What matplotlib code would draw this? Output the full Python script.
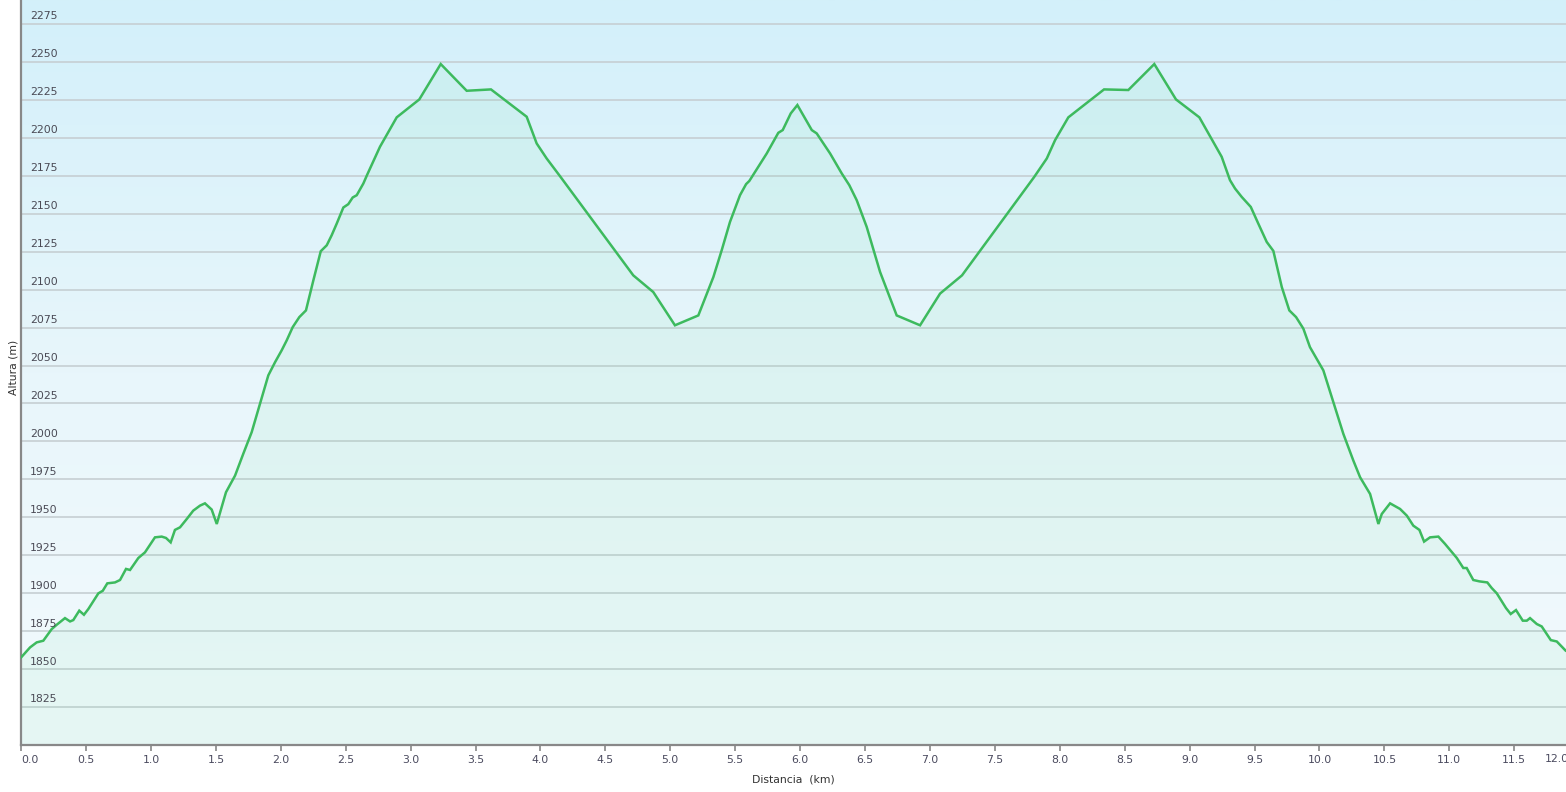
import numpy as np
import matplotlib
matplotlib.use("Agg")
import matplotlib.pyplot as plt
from matplotlib.colors import LinearSegmentedColormap
import matplotlib.transforms as mtransforms

# ---- data ----
distance_km = [0.0, 0.069, 0.120, 0.171, 0.236, 0.274, 0.338, 0.377, 0.402, 0.448,
               0.484, 0.518, 0.595, 0.629, 0.664, 0.723, 0.762, 0.808, 0.839, 0.903,
               0.954, 0.980, 1.031, 1.083, 1.116, 1.152, 1.185, 1.224, 1.276, 1.326,
               1.378, 1.416, 1.468, 1.507, 1.578, 1.648, 1.711, 1.776, 1.840, 1.904,
               1.956, 2.007, 2.046, 2.092, 2.143, 2.194, 2.251, 2.308, 2.354, 2.392,
               2.431, 2.482, 2.520, 2.554, 2.585, 2.636, 2.664, 2.764, 2.893, 3.067,
               3.232, 3.432, 3.619, 3.894, 3.971, 4.048, 4.151, 4.715, 4.869, 5.036,
               5.216, 5.332, 5.396, 5.460, 5.537, 5.584, 5.609, 5.743, 5.832, 5.866,
               5.928, 5.979, 6.038, 6.090, 6.128, 6.231, 6.321, 6.379, 6.436, 6.513,
               6.616, 6.744, 6.924, 7.078, 7.247, 7.802, 7.900, 7.964, 8.066, 8.341,
               8.528, 8.728, 8.895, 9.075, 9.247, 9.311, 9.350, 9.401, 9.471, 9.529,
               9.594, 9.645, 9.710, 9.768, 9.820, 9.876, 9.927, 10.030, 10.095, 10.184,
               10.261, 10.313, 10.390, 10.454, 10.480, 10.544, 10.621, 10.673, 10.723, 10.770,
               10.806, 10.852, 10.916, 10.967, 11.058, 11.108, 11.134, 11.185, 11.232, 11.293,
               11.327, 11.366, 11.437, 11.473, 11.514, 11.566, 11.597, 11.622, 11.674, 11.712,
               11.782, 11.828, 11.897, 12.05]
altitude_m = [1857.7, 1864.3, 1867.6, 1868.7, 1876.4, 1879.2, 1883.6, 1881.4, 1882.3, 1888.5,
              1885.8, 1889.6, 1899.9, 1901.6, 1906.5, 1907.1, 1908.7, 1916.0, 1915.3, 1923.2,
              1926.9, 1930.2, 1936.8, 1937.3, 1936.4, 1933.5, 1941.7, 1943.4, 1948.9, 1954.4,
              1957.7, 1959.2, 1955.1, 1945.6, 1966.5, 1977.5, 1991.8, 2006.1, 2024.8, 2043.5,
              2052.2, 2060.0, 2066.6, 2075.3, 2081.9, 2086.3, 2106.1, 2125.3, 2129.2, 2135.8,
              2143.5, 2154.1, 2156.3, 2160.7, 2162.2, 2169.9, 2175.4, 2194.1, 2213.5, 2225.3,
              2248.6, 2231.0, 2231.9, 2213.9, 2196.3, 2186.4, 2174.7, 2109.4, 2098.4, 2076.5,
              2083.0, 2108.3, 2125.9, 2144.6, 2162.2, 2169.5, 2171.6, 2189.7, 2203.3, 2205.1,
              2216.1, 2221.6, 2212.8, 2205.1, 2202.9, 2189.7, 2176.5, 2168.8, 2158.9, 2141.3,
              2111.6, 2083.0, 2076.5, 2097.4, 2109.4, 2174.1, 2186.4, 2198.5, 2213.5, 2231.9,
              2231.5, 2248.6, 2225.3, 2213.5, 2187.5, 2172.1, 2166.6, 2161.1, 2154.5, 2143.5,
              2131.4, 2125.5, 2101.7, 2086.3, 2081.9, 2074.3, 2062.1, 2046.8, 2029.2, 2005.0,
              1987.4, 1976.4, 1965.4, 1945.6, 1952.2, 1959.2, 1955.5, 1951.1, 1944.5, 1941.7,
              1934.0, 1936.8, 1937.3, 1932.5, 1923.2, 1916.6, 1916.6, 1908.7, 1907.8, 1907.1,
              1903.4, 1899.9, 1890.2, 1886.3, 1888.9, 1881.9, 1881.9, 1883.6, 1879.7, 1878.1,
              1869.1, 1868.2, 1862.1, 1856.0]

x_ticks = [0.0, 0.5, 1.0, 1.5, 2.0, 2.5, 3.0, 3.5, 4.0, 4.5, 5.0, 5.5, 6.0,
           6.5, 7.0, 7.5, 8.0, 8.5, 9.0, 9.5, 10.0, 10.5, 11.0, 11.5]
y_ticks = [1825, 1850, 1875, 1900, 1925, 1950, 1975, 2000, 2025, 2050, 2075,
           2100, 2125, 2150, 2175, 2200, 2225, 2250, 2275]
x_label = "Distancia  (km)"
y_label = "Altura (m)"

# ---- figure ----
W, H = 1566, 792
fig = plt.figure(figsize=(W / 100, H / 100), dpi=100)
fig.patch.set_facecolor("white")
ax = fig.add_axes([21.1 / W, (H - 745) / H, 1 - 21.1 / W, 745 / H])

x_min, x_max = 0.0, 11.899
y_min, y_max = 1800.0, 2290.8
ax.set_xlim(x_min, x_max)
ax.set_ylim(y_min, y_max)

# background gradient
cmap = LinearSegmentedColormap.from_list(
    "bg", ["#f3fafd", "#e8f6fb", "#d3f0fa"])
grad = np.linspace(0, 1, 256).reshape(-1, 1)
ax.imshow(grad, aspect="auto", cmap=cmap, origin="lower",
          extent=[x_min, x_max, y_min, y_max], zorder=0)

# grid lines
for v in y_ticks:
    ax.axhline(v, color="#c6cfd3", lw=1.2, zorder=1)

# fill + line
ax.fill_between(distance_km, y_min, altitude_m, color="#44d884", alpha=0.07,
                lw=0, zorder=2)
ax.plot(distance_km, altitude_m, color="#3dba5e", lw=1.8, zorder=3,
        solid_joinstyle="miter")

# y labels inside the axes, just above the grid lines
trans = mtransforms.blended_transform_factory(ax.transAxes, ax.transData)
for v in y_ticks:
    ax.text(9.0 / (W - 21.1), v + 3.0, str(v), transform=trans,
            fontsize=7.8, color="#4a4a55", ha="left", va="baseline",
            family="DejaVu Sans", zorder=4)
ax.set_yticks([])

# x ticks
ax.set_xticks(x_ticks)
ax.set_xticklabels([f"{t:.1f}" for t in x_ticks], fontsize=7.8, color="#4a4a5e")
ax.tick_params(axis="x", direction="out", length=4, width=1.2, color="#888888", pad=3)
lbls = ax.get_xticklabels()
lbls[0].set_horizontalalignment("left")
lbls[0].set_x(0.0)
fig.text(1545 / W, (H - 759) / H, "12.0", fontsize=7.8, color="#4a4a5e",
         ha="left", va="center")

for s in ["top", "right"]:
    ax.spines[s].set_visible(False)
for s in ["left", "bottom"]:
    ax.spines[s].set_color("#888888")
    ax.spines[s].set_linewidth(1.6)

fig.text(793 / W, (H - 779) / H, x_label, fontsize=7.8, color="#333333",
         ha="center", va="center")
fig.text(13 / W, (H - 367) / H, y_label, fontsize=7.8, color="#333333",
         ha="center", va="center", rotation=90)

fig.savefig("out.png", dpi=100, facecolor="white")
